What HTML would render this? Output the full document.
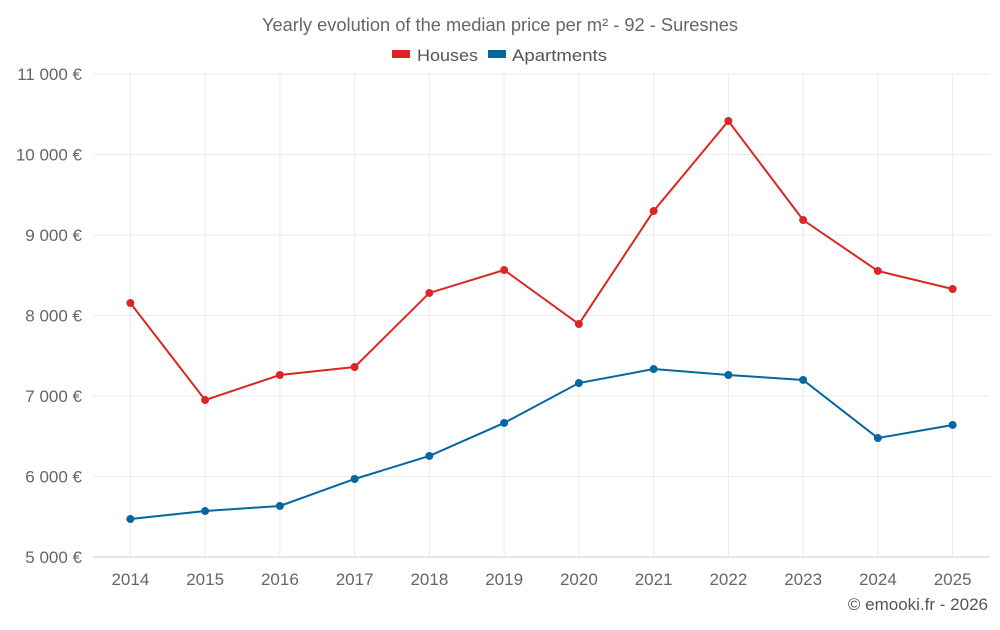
<!DOCTYPE html>
<html><head><meta charset="utf-8"><style>
body{margin:0;background:#fff;font-family:"Liberation Sans",sans-serif;}
svg text{font-family:"Liberation Sans",sans-serif;}
</style></head><body>
<svg id="chart" width="1000" height="625">
<text x="500" y="31" text-anchor="middle" font-size="18" fill="#666" textLength="476" lengthAdjust="spacingAndGlyphs">Yearly evolution of the median price per m² - 92 - Suresnes</text>
<g>
<g><rect x="392" y="50" width="18" height="8" fill="#dc2626"/><text x="417" y="61" font-size="17" fill="#555" textLength="61" lengthAdjust="spacingAndGlyphs">Houses</text></g>
<g><rect x="488" y="50" width="18" height="8" fill="#0467a2"/><text x="512" y="61" font-size="17" fill="#555" textLength="95" lengthAdjust="spacingAndGlyphs">Apartments</text></g>
</g>
<g id="grid"></g><g id="axes"></g><g id="series"></g>
<text x="988" y="610" text-anchor="end" font-size="17" fill="#555">© emooki.fr - 2026</text>
</svg>
<script>
const years=["2014","2015","2016","2017","2018","2019","2020","2021","2022","2023","2024","2025"];
const houses=[8155,6950,7261,7360,8280,8565,7894,9298,10416,9186,8553,8329];
const apartments=[5472,5571,5634,5969,6255,6665,7161,7335,7261,7199,6478,6640];
const yTicks=[5000,6000,7000,8000,9000,10000,11000];
const yTickLabels=["5 000 €","6 000 €","7 000 €","8 000 €","9 000 €","10 000 €","11 000 €"];
const L=93,R=990,T=74,B=557,yMin=5000,yMax=11000;
const NS="http://www.w3.org/2000/svg";
const bw=(R-L)/years.length;
function x(i){return L+bw*(i+0.5);}
function y(v){return B-(v-yMin)/(yMax-yMin)*(B-T);}
function mk(tag,attrs,parent){const e=document.createElementNS(NS,tag);for(const k in attrs)e.setAttribute(k,attrs[k]);document.getElementById(parent).appendChild(e);return e;}
yTicks.forEach((v,i)=>{
 const g=mk('line',{x1:L,x2:R,y1:y(v),y2:y(v),stroke:i==0?'#ccc':'#ebebeb','stroke-width':1},'grid');
 
 
 const t=mk('text',{x:82,y:y(v)+6,'text-anchor':'end','font-size':17,fill:'#666'},'axes');
 t.textContent=yTickLabels[i];
 
 
});
years.forEach((yr,i)=>{
 const g=mk('line',{x1:x(i),x2:x(i),y1:T,y2:B,stroke:'#ebebeb','stroke-width':1},'grid');
 
 
 const t=mk('text',{x:x(i),y:585,'text-anchor':'middle','font-size':17,fill:'#666'},'axes');
 t.textContent=yr;
 
 
});
function series(vals,color,name){
 const p=mk('polyline',{points:vals.map((v,i)=>x(i)+','+y(v)).join(' '),fill:'none',stroke:color,'stroke-width':2},'series');
 
 
 vals.forEach((v,i)=>{
  const c=mk('circle',{cx:x(i),cy:y(v),r:4,fill:color},'series');
  
  
 });
}
series(houses,'#dc2626','houses');
series(apartments,'#0467a2','apartments');
</script>
</body></html>
